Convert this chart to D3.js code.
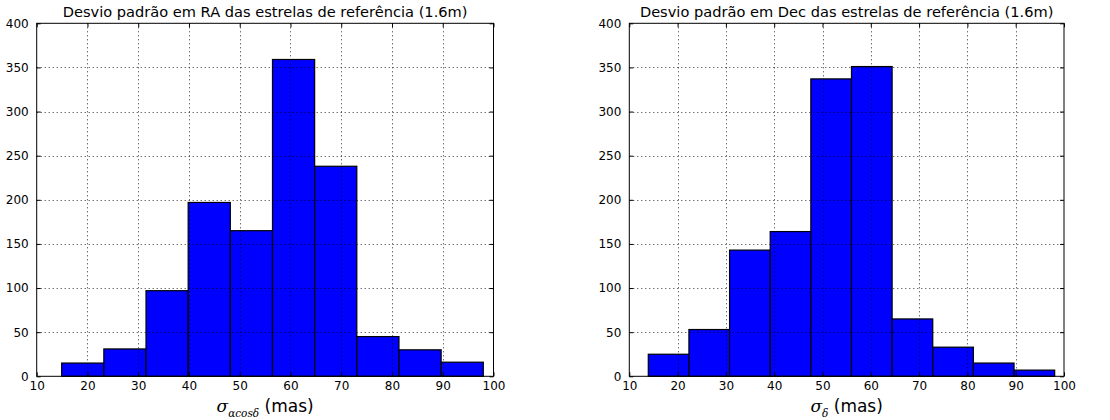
<!DOCTYPE html>
<html><head><meta charset="utf-8">
<script src="https://cdn.jsdelivr.net/npm/d3@7"></script>
<style>
body{margin:0;background:#fff;}
svg{display:block;}
text{font-family:"DejaVu Sans",sans-serif;fill:#000;}
</style></head>
<body>
<svg id="c" width="1110" height="420"></svg>
<script>
// Data
const raBinStart = 14.92, raBinEnd = 97.99;
const raCounts = [15, 31, 97, 197, 165, 359, 238, 45, 30, 16];
const decBinStart = 13.93, decBinEnd = 98.07;
const decCounts = [25, 53, 143, 164, 337, 351, 65, 33, 15, 7];
const xTicks = [10, 20, 30, 40, 50, 60, 70, 80, 90, 100];
const yTicks = [0, 50, 100, 150, 200, 250, 300, 350, 400];
const titles = ["Desvio padrão em RA das estrelas de referência (1.6m)",
                "Desvio padrão em Dec das estrelas de referência (1.6m)"];

const svg = d3.select("#c");

function panel(opts){
  const {left, right, top, bottom, start, end, counts, title, xlabel} = opts;
  const g = svg.append("g");
  const x = d3.scaleLinear().domain([10,100]).range([left,right]);
  const y = d3.scaleLinear().domain([0,400]).range([bottom,top]);
  const n = counts.length, w = (end-start)/n;
  const bins = counts.map((c,i)=>({x0:start+i*w, x1:start+(i+1)*w, c}));

  // bars
  g.selectAll("rect.bar").data(bins).enter().append("rect")
    .attr("x", d=>x(d.x0)).attr("width", d=>x(d.x1)-x(d.x0))
    .attr("y", d=>y(d.c)).attr("height", d=>y(0)-y(d.c))
    .attr("fill","#0000ff").attr("stroke","#000").attr("stroke-width",1.2);

  // grid
  g.selectAll("line.gx").data(xTicks.slice(1,-1)).enter().append("line")
    .attr("x1",d=>Math.round(x(d))+0.5).attr("x2",d=>Math.round(x(d))+0.5)
    .attr("y1",top).attr("y2",bottom)
    .attr("stroke","#000").attr("stroke-width",0.8).attr("stroke-dasharray","1,3");
  g.selectAll("line.gy").data(yTicks.slice(1,-1)).enter().append("line")
    .attr("y1",d=>Math.round(y(d))+0.5).attr("y2",d=>Math.round(y(d))+0.5)
    .attr("x1",left).attr("x2",right)
    .attr("stroke","#000").attr("stroke-width",0.8).attr("stroke-dasharray","1,3");

  // axes (ticks inside, all sides)
  const axB = d3.axisBottom(x).tickValues(xTicks).tickSize(-4).tickPadding(8).tickFormat(d3.format("d"));
  const axT = d3.axisTop(x).tickValues(xTicks).tickSize(-4).tickFormat("");
  const axL = d3.axisLeft(y).tickValues(yTicks).tickSize(-4).tickPadding(8).tickFormat(d3.format("d"));
  const axR = d3.axisRight(y).tickValues(yTicks).tickSize(-4).tickFormat("");
  const gb = g.append("g").attr("transform",`translate(0,${bottom})`).call(axB);
  const gt = g.append("g").attr("transform",`translate(0,${top})`).call(axT);
  const gl = g.append("g").attr("transform",`translate(${left},0)`).call(axL);
  const gr = g.append("g").attr("transform",`translate(${right},0)`).call(axR);
  [gb,gt,gl,gr].forEach(a=>{
    a.select(".domain").remove();
    a.selectAll("line").attr("stroke","#000");
    a.selectAll("text").attr("font-size",12).attr("font-family","DejaVu Sans").attr("fill","#000");
  });
  gb.selectAll("text").attr("dy","0.5em");
  g.append("rect").attr("x",left).attr("y",top).attr("width",right-left).attr("height",bottom-top)
    .attr("fill","none").attr("stroke","#000").attr("stroke-width",1);

  // title
  g.append("text").attr("x",(left+right)/2).attr("y",top-6)
    .attr("text-anchor","middle").attr("font-size",14.6).text(title);

  // xlabel
  const t = g.append("text").attr("x",(left+right)/2).attr("y",bottom+36)
    .attr("text-anchor","middle").attr("font-size",17);
  t.append("tspan").attr("font-family","DejaVu Serif").attr("font-style","italic").text("σ");
  t.append("tspan").attr("font-family","DejaVu Serif").attr("font-style","italic")
    .attr("font-size",10.5).attr("dy",5).text(xlabel);
  t.append("tspan").attr("dy",-5).text(" (mas)");
}

panel({left:36.7, right:493.5, top:23.3, bottom:376.3, start:raBinStart, end:raBinEnd,
       counts:raCounts, title:titles[0], xlabel:"αcosδ"});
panel({left:629.3, right:1064, top:23.3, bottom:376.3, start:decBinStart, end:decBinEnd,
       counts:decCounts, title:titles[1], xlabel:"δ"});
</script>
</body></html>
